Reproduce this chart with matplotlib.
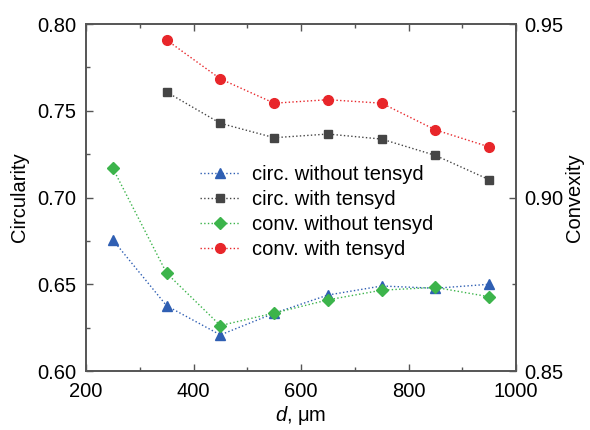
import numpy as np
import matplotlib
matplotlib.use('Agg')
import matplotlib.pyplot as plt
from matplotlib.ticker import MultipleLocator

plt.rcParams['font.family'] = ['Liberation Sans', 'DejaVu Sans']
plt.rcParams['mathtext.fontset'] = 'custom'
plt.rcParams['mathtext.it'] = 'Liberation Sans:italic'
plt.rcParams['mathtext.rm'] = 'Liberation Sans'

# particle size d, um
d_all = [250, 350, 450, 550, 650, 750, 850, 950]
d_tens = [350, 450, 550, 650, 750, 850, 950]

# circularity (left axis)
circ_without = [0.6755, 0.6376, 0.6208, 0.6333, 0.6438, 0.6490, 0.6477, 0.6500]
circ_with = [0.7608, 0.7428, 0.7345, 0.7366, 0.7337, 0.7243, 0.7103]

# convexity (right axis)
conv_without = [0.9084, 0.8782, 0.8631, 0.8667, 0.8705, 0.8733, 0.8741, 0.8714]
conv_with = [0.9454, 0.9342, 0.9272, 0.9282, 0.9272, 0.9195, 0.9146]

blue = '#2f5fb3'
gray = '#454545'
green = '#3cb44b'
red = '#e8262a'
spine_col = '#555555'
fs = 14.5

fig = plt.figure(figsize=(5.9, 4.3), dpi=100)
ax1 = fig.add_axes([0.1458, 0.1372, 0.7288, 0.8068])
ax2 = ax1.twinx()

l1, = ax1.plot(d_all, circ_without, ':', color=blue, lw=1.0, marker='^', ms=7,
               mec=blue, mfc=blue, label='circ. without tensyd')
l2, = ax1.plot(d_tens, circ_with, ':', color=gray, lw=1.0, marker='s', ms=6,
               mec=gray, mfc=gray, label='circ. with tensyd')
l3, = ax2.plot(d_all, conv_without, ':', color=green, lw=1.0, marker='D', ms=6,
               mec=green, mfc=green, label='conv. without tensyd')
l4, = ax2.plot(d_tens, conv_with, ':', color=red, lw=1.0, marker='o', ms=7,
               mec=red, mfc=red, label='conv. with tensyd')

ax1.set_xlim(200, 1000)
ax1.set_ylim(0.60, 0.80)
ax2.set_ylim(0.85, 0.95)

ax1.xaxis.set_major_locator(MultipleLocator(200))
ax1.xaxis.set_minor_locator(MultipleLocator(100))
ax1.yaxis.set_major_locator(MultipleLocator(0.05))
ax1.yaxis.set_minor_locator(MultipleLocator(0.025))
ax2.yaxis.set_major_locator(MultipleLocator(0.05))
ax2.yaxis.set_minor_locator(MultipleLocator(0.025))
ax1.yaxis.set_major_formatter(plt.FormatStrFormatter('%.2f'))
ax2.yaxis.set_major_formatter(plt.FormatStrFormatter('%.2f'))

ax1.tick_params(axis='x', which='both', direction='in', top=True, colors=spine_col,
                labelcolor='black', labelsize=fs, pad=8)
ax1.tick_params(axis='y', which='both', direction='in', right=False, colors=spine_col,
                labelcolor='black', labelsize=fs, pad=7)
ax2.tick_params(axis='y', which='both', direction='in', colors=spine_col,
                labelcolor='black', labelsize=fs, pad=6)
for a in (ax1, ax2):
    a.tick_params(which='major', length=5, width=1)
    a.tick_params(which='minor', length=3, width=1)
    for s in a.spines.values():
        s.set_color(spine_col)
        s.set_linewidth(1.2)

ax1.set_xlabel(r'$d$, μm', fontsize=fs, labelpad=2)
ax1.set_ylabel('Circularity', fontsize=fs, labelpad=6)
ax2.set_ylabel('Convexity', fontsize=fs, labelpad=1)

ax1.legend(handles=[l1, l2, l3, l4], loc='upper left', bbox_to_anchor=(0.265, 0.595),
           frameon=False, fontsize=fs, borderpad=0, borderaxespad=0,
           handlelength=2.0, handletextpad=0.6, labelspacing=0.3)

fig.savefig('out.png', dpi=100)
